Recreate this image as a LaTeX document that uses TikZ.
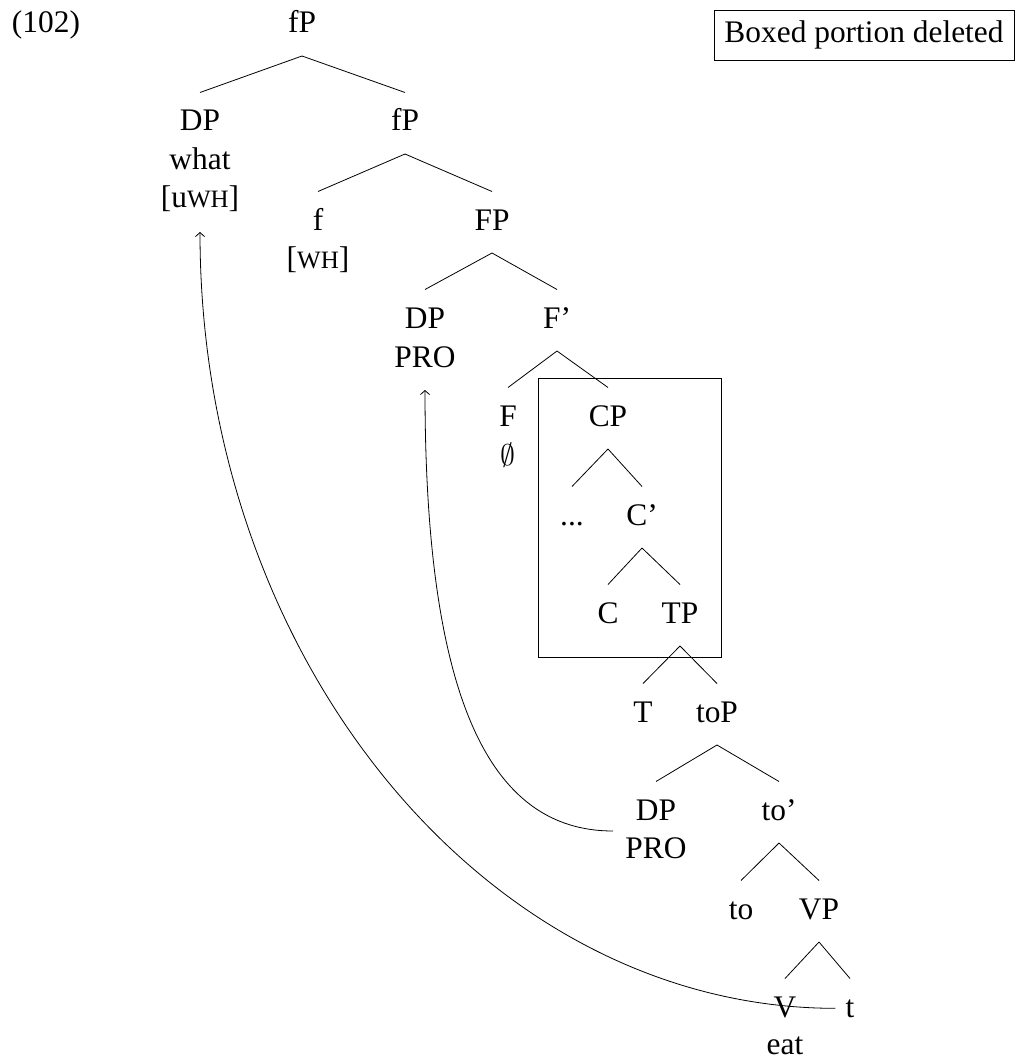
\documentclass[tikz,border=0pt]{standalone}
\usepackage{fontspec}
\setmainfont{Liberation Serif}
\usetikzlibrary{calc,arrows.meta}
\newcommand\smallc[1]{{\fontsize{25}{28}\selectfont #1}}
\newcommand\treebranch[3]{%
  \draw[branch] ($(#1.base)+(0,23)$) -- ($(#2.base)+(0,-38.5)$);
  \draw[branch] ($(#1.base)+(0,23)$) -- ($(#3.base)+(0,-38.5)$);}
\begin{document}
\begin{tikzpicture}[x=1pt,y=-1pt,
  lab/.style={inner sep=0pt,anchor=base,font=\fontsize{31.4}{38}\selectfont},
  branch/.style={line width=0.8pt},
  move/.style={line width=0.8pt,-{Straight Barb[length=4pt,width=9pt]}},
  legend/.style={draw,line width=0.8pt,inner sep=0pt,minimum width=300pt,minimum height=50pt,font=\fontsize{31.4}{38}\selectfont}]
\useasboundingbox (0,0) rectangle (1018,1059);
% example number and legend
\node[lab] (ex) at (46,33) {(102)};
\node[legend] (leg) at (864,35) {Boxed portion deleted};
% tree labels
\node[lab] (fpA) at (302,33) {fP};
\node[lab] (dpA) at (200,131) {DP};
\node[lab] (what) at (200,170) {what};
\node[lab] (uwh) at (200,208) {[u\smallc{WH}]};
\node[lab] (fpB) at (405,131) {fP};
\node[lab] (fsm) at (318,230) {f};
\node[lab] (wh) at (318,268) {[\smallc{WH}]};
\node[lab] (FP) at (492,230) {FP};
\node[lab] (dpB) at (425,328) {DP};
\node[lab] (proB) at (425,367) {PRO};
\node[lab] (Fbar) at (557,328) {F'};
\node[lab] (F) at (508,426) {F};
\node[lab,scale=1.2] (empty) at (508,465) {$\emptyset$};
\node[lab] (CP) at (608,426) {CP};
\node[lab] (dots) at (572,525) {...};
\node[lab] (Cbar) at (642,525) {C'};
\node[lab] (C) at (608,623) {C};
\node[lab] (TP) at (680,623) {TP};
\node[lab] (T) at (643,722) {T};
\node[lab] (toP) at (717,722) {toP};
\node[lab] (dpC) at (656,820) {DP};
\node[lab] (proC) at (656,858) {PRO};
\node[lab] (tobar) at (779,820) {to'};
\node[lab] (to) at (741,919) {to};
\node[lab] (VP) at (819,919) {VP};
\node[lab] (V) at (785,1017) {V};
\node[lab] (eat) at (785,1054) {eat};
\node[lab] (t) at (850,1017) {t};
% branches
\treebranch{fpA}{dpA}{fpB}
\treebranch{fpB}{fsm}{FP}
\treebranch{FP}{dpB}{Fbar}
\treebranch{Fbar}{F}{CP}
\treebranch{CP}{dots}{Cbar}
\treebranch{Cbar}{C}{TP}
\treebranch{TP}{T}{toP}
\treebranch{toP}{dpC}{tobar}
\treebranch{tobar}{to}{VP}
\treebranch{VP}{V}{t}
% deleted box
\draw[branch] (538,378) rectangle (721,657);
% movement arrows
\draw[move] ($(t.west)+(-10,0)$) .. controls +(-349,0) and +(0,427) .. ($(uwh.base)+(0,24)$);
\draw[move] ($(dpC.base)+(-43,11)$) .. controls +(-123,0) and +(0,310) .. ($(proB.base)+(0,23)$);
\end{tikzpicture}
\end{document}
